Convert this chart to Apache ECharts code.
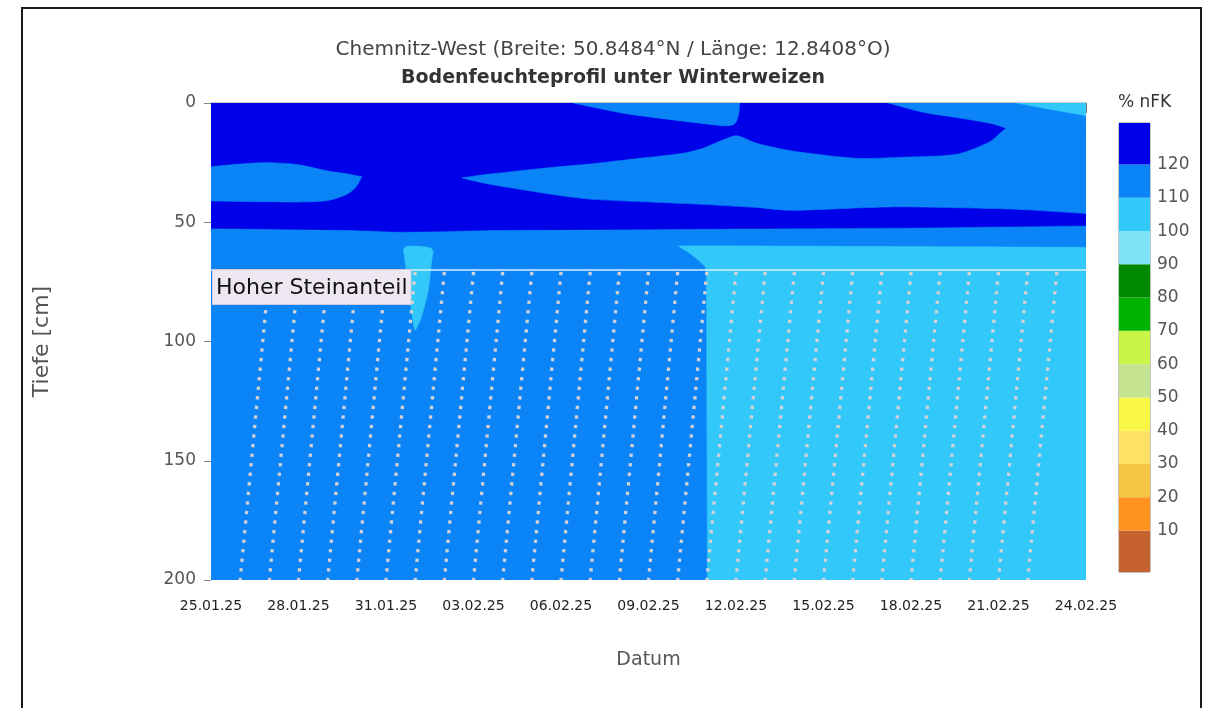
<!DOCTYPE html>
<html>
<head>
<meta charset="utf-8">
<title>Bodenfeuchteprofil</title>
<script src="https://cdn.jsdelivr.net/npm/echarts@6/dist/echarts.min.js"></script>
<style>
  html, body { margin: 0; padding: 0; background: #fff; }
  #chart { width: 1214px; height: 708px; }
</style>
</head>
<body>
<div id="chart"></div>
<script>
// x: Tage ab 25.01.25, y: Tiefe in cm
var dateTicks = ['25.01.25', '28.01.25', '31.01.25', '03.02.25', '06.02.25', '09.02.25',
  '12.02.25', '15.02.25', '18.02.25', '21.02.25', '24.02.25']
var depthTicks = [0, 50, 100, 150, 200]

// Klassengrenzen % nFK und Farben (von unten nach oben)
var nfkTicks = [10, 20, 30, 40, 50, 60, 70, 80, 90, 100, 110, 120]
var nfkColors = ['#c6622f', '#ff921f', '#f6c443', '#ffe164', '#f7f744', '#c3e391', '#c9f547',
  '#00b300', '#008800', '#7fe4f8', '#33c8fa', '#0a84f6', '#0000e8']

// Flaechen: [Tag, Tiefe oben, Tiefe unten]
var baseLayer = [[0, 0, 200], [30, 0, 200]] // 110-120
var darkBlue = [[0, 0, 52.5], [4.77, 0, 53.2], [6.48, 0, 54.0], [8.19, 0, 53.7], [9.57, 0, 53.2],
  [13.34, 0, 53.0], [19.85, 0, 52.5], [23.62, 0, 52.3], [30, 0, 51.4]] // >120
var lensLeft = [[-0.6, 27.0, 41.0], [0, 26.7, 41.1], [1.0, 25.6, 41.3], [2.0, 25.0, 41.4], [3.0, 25.9, 41.5],
  [4.0, 28.5, 40.9], [4.6, 29.6, 38.6], [4.95, 30.4, 35.5], [5.17, 30.9, 30.9]] // 110-120
var wedgeMid = [[8.6, 31.4, 31.4], [9.57, 29.8, 34.1], [11.86, 26.8, 38.6], [12.99, 25.6, 40.3],
  [14.27, 23.8, 41.1], [16.18, 21.1, 42.1], [16.87, 19.0, 42.5], [17.55, 15.5, 43.0],
  [18.02, 13.7, 43.3], [18.71, 16.9, 43.8], [19.85, 20.0, 45.0], [22.14, 23.2, 44.0],
  [23.57, 22.8, 43.5], [25.57, 21.5, 43.9], [26.71, 16.2, 44.2], [27.28, 10.6, 44.4],
  [28.0, 9.0, 44.8], [30, 9.0, 46.3], [30.6, 9.0, 46.6]] // 110-120
var stripA = [[12.42, 0, 0], [14.14, 0, 4.3], [15.85, 0, 7.1], [17.56, 0, 9.5], [17.85, 0, 9.3],
  [18.0, 0, 8.0], [18.1, 0, 4.0], [18.12, 0, 0]] // 110-120
var stripB = [[23.22, 0, 0], [24.42, 0, 3.9], [25.57, 0, 6.1], [26.71, 0, 8.5], [27.28, 0, 10.6],
  [27.6, 0, 12], [30, 0, 12], [30.6, 0, 12]] // 110-120
var cyanCorner = [[27.62, 0, 0], [28.8, 0, 2.7], [30, 0, 5.3], [30.6, 0, 6.6]] // 100-110
var cyanTongue = [[6.6, 61.5, 61.5], [6.65, 60.5, 66], [6.71, 60.2, 71.3], [6.82, 60.0, 82.6],
  [6.94, 60.0, 92.2], [7.0, 60.0, 95.2], [7.1, 60.1, 93], [7.22, 60.2, 89.6], [7.45, 60.5, 78.4],
  [7.57, 61.2, 65.8], [7.62, 62.5, 62.5]] // 100-110
var cyanRight = [[16.02, 60.0, 60.0], [16.42, 59.9, 63.0], [16.77, 59.9, 66.5], [16.94, 59.9, 68.6],
  [16.99, 59.9, 71], [17.02, 59.9, 200], [30, 60.5, 200]] // 100-110

// Hoher Steinanteil: [Tag von, Tag bis, Tiefe oben, Tiefe unten]
var stoneLayer = [0, 30, 70, 200]

var regions = [
  { pts: baseLayer, value: 115, smooth: 0 },
  { pts: darkBlue, value: 125, smooth: 0 },
  { pts: lensLeft, value: 115, smooth: 0.3 },
  { pts: wedgeMid, value: 115, smooth: 0.25 },
  { pts: stripA, value: 115, smooth: 0.3 },
  { pts: stripB, value: 115, smooth: 0.3 },
  { pts: cyanCorner, value: 105, smooth: 0 },
  { pts: cyanTongue, value: 105, smooth: 0.3 },
  { pts: cyanRight, value: 105, smooth: 0 }
]

function nfkColor(v) {
  var i = 0
  while (i < nfkTicks.length && v >= nfkTicks[i]) i++
  return nfkColors[i]
}

var FONT = '"DejaVu Sans", Verdana, sans-serif'
var chart = echarts.init(document.getElementById('chart'))

var barSegments = nfkColors.map(function (c, i) {
  var lo = i === 0 ? -2.5 : nfkTicks[i - 1]
  var hi = i === nfkColors.length - 1 ? 132.5 : nfkTicks[i]
  return [lo, hi, i]
})

var option = {
  animation: false,
  backgroundColor: '#fff',
  textStyle: { fontFamily: FONT },
  title: [
    {
      text: 'Chemnitz-West (Breite: 50.8484°N / Länge: 12.8408°O)',
      left: 613,
      top: 40,
      textAlign: 'center',
      padding: 0,
      textStyle: { fontSize: 20, fontWeight: 'normal', color: '#444', fontFamily: FONT }
    },
    {
      text: 'Bodenfeuchteprofil unter Winterweizen',
      left: 613,
      top: 69,
      textAlign: 'center',
      padding: 0,
      textStyle: { fontSize: 19, fontWeight: 'bold', color: '#333', fontFamily: FONT }
    }
  ],
  graphic: [
    {
      type: 'rect',
      silent: true,
      shape: { x: 22, y: 8, width: 1179, height: 760 },
      style: { fill: 'none', stroke: '#1a1a1a', lineWidth: 2 }
    },
    {
      type: 'text',
      left: 1118,
      top: 94,
      style: { text: '% nFK', font: '17px ' + FONT, fill: '#333' }
    }
  ],
  grid: [
    { left: 211, top: 103, width: 875, height: 477 },
    { left: 1119, top: 123, width: 31, height: 449, show: true, borderColor: '#8a8a8a', borderWidth: 1, backgroundColor: 'transparent' }
  ],
  xAxis: [
    {
      type: 'value',
      gridIndex: 0,
      min: 0,
      max: 30,
      interval: 3,
      offset: 3,
      name: 'Datum',
      nameLocation: 'middle',
      nameGap: 68,
      nameTextStyle: { fontSize: 19, color: '#555' },
      axisLine: { show: false },
      axisTick: { show: true, length: 10, lineStyle: { color: '#777' } },
      splitLine: { show: false },
      axisLabel: {
        margin: 16,
        fontSize: 14,
        color: '#222',
        formatter: function (v) { return dateTicks[Math.round(v / 3)] }
      }
    },
    {
      type: 'value',
      gridIndex: 0,
      position: 'top',
      min: 0,
      max: 30,
      axisLine: { show: true, lineStyle: { color: '#b5b5b5', width: 1.5 } },
      axisTick: { show: false },
      axisLabel: { show: false },
      splitLine: { show: false }
    },
    { type: 'value', gridIndex: 1, min: 0, max: 1, show: false }
  ],
  yAxis: [
    {
      type: 'value',
      gridIndex: 0,
      inverse: true,
      min: depthTicks[0],
      max: depthTicks[depthTicks.length - 1],
      interval: 50,
      offset: 2,
      name: 'Tiefe [cm]',
      nameLocation: 'middle',
      nameGap: 156,
      nameTextStyle: { fontSize: 22, color: '#555' },
      axisLine: { show: false },
      axisTick: { show: true, length: 7, lineStyle: { color: '#888' } },
      splitLine: { show: false },
      axisLabel: { margin: 13, fontSize: 17, color: '#555' }
    },
    {
      type: 'value',
      gridIndex: 1,
      position: 'right',
      min: -2.5,
      max: 132.5,
      axisLine: { show: false },
      axisTick: { show: false },
      splitLine: { show: false },
      axisLabel: { customValues: nfkTicks, margin: 7, fontSize: 17, color: '#555', padding: [6, 0, 0, 0] }
    }
  ],
  series: [
    {
      type: 'custom',
      name: 'nFK',
      xAxisIndex: 0,
      yAxisIndex: 0,
      clip: true,
      silent: true,
      data: regions.map(function (r, i) { return [i, r.value] }),
      renderItem: function (params, api) {
        var r = regions[params.dataIndex]
        var top = r.pts.map(function (p) { return api.coord([p[0], p[1]]) })
        var bottom = r.pts.slice().reverse().map(function (p) { return api.coord([p[0], p[2]]) })
        var color = nfkColor(r.value)
        return {
          type: 'polygon',
          shape: { points: top.concat(bottom), smooth: r.smooth },
          style: { fill: color, stroke: color, lineWidth: 0.6 }
        }
      }
    },
    {
      type: 'custom',
      name: 'Stein',
      xAxisIndex: 0,
      yAxisIndex: 0,
      clip: true,
      silent: true,
      data: [stoneLayer],
      renderItem: function (params, api) {
        var d0 = api.value(0)
        var d1 = api.value(1)
        var top = api.value(2)
        var bot = api.value(3)
        var children = []
        // schraege Punktlinien, je Tag eine
        for (var k = d0 + 1; k + 1 < d1; k++) {
          var a = api.coord([k + 1, top])
          var b = api.coord([k, bot])
          children.push({
            type: 'line',
            shape: { x1: a[0], y1: a[1] + 2, x2: b[0], y2: b[1] },
            style: { stroke: '#d2d2d6', lineWidth: 3.3, lineDash: [3.3, 6.3] }
          })
        }
        var l = api.coord([d0, top])
        var r = api.coord([d1, top])
        children.push({
          type: 'line',
          shape: { x1: l[0], y1: l[1], x2: r[0], y2: r[1] },
          style: { stroke: '#d9eefc', lineWidth: 1.5 }
        })
        children.push({
          type: 'text',
          x: l[0] + 2,
          y: l[1],
          style: {
            text: 'Hoher Steinanteil',
            font: '22px ' + FONT,
            fill: '#111',
            backgroundColor: '#ece7f1',
            borderColor: '#d0cadb',
            borderWidth: 1,
            padding: [7, 3, 5, 3],
            verticalAlign: 'top'
          }
        })
        return { type: 'group', children: children }
      }
    },
    {
      type: 'custom',
      name: 'Legende',
      xAxisIndex: 2,
      yAxisIndex: 1,
      silent: true,
      data: barSegments,
      renderItem: function (params, api) {
        var p0 = api.coord([0, api.value(1)])
        var p1 = api.coord([1, api.value(0)])
        return {
          type: 'rect',
          shape: { x: p0[0], y: p0[1], width: p1[0] - p0[0], height: p1[1] - p0[1] },
          style: { fill: nfkColors[api.value(2)] }
        }
      }
    }
  ]
}

chart.setOption(option)
</script>
</body>
</html>
